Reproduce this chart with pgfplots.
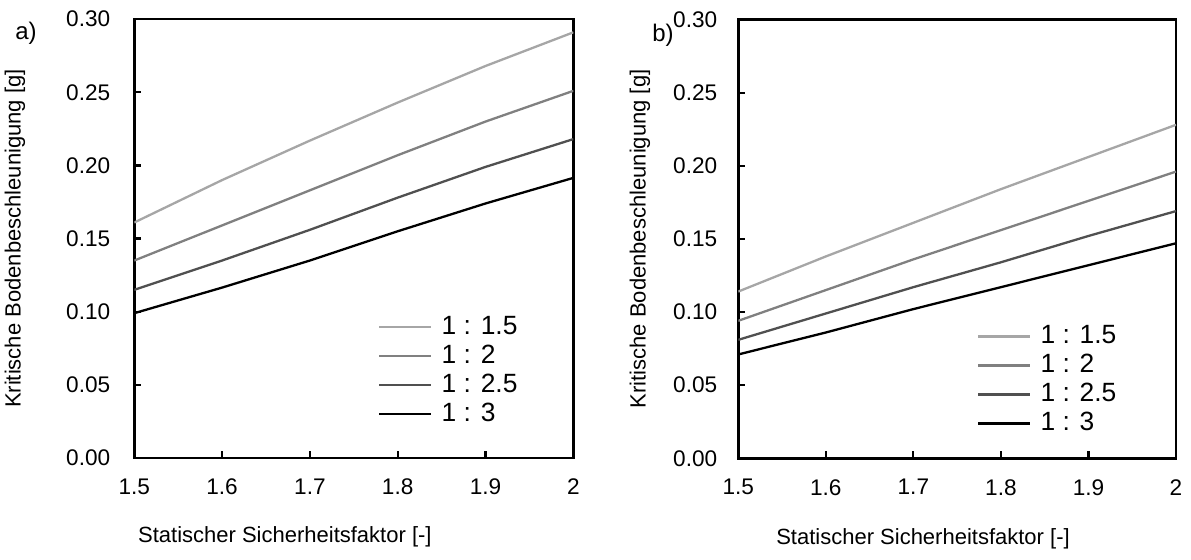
\documentclass[border=0pt]{standalone}
\usepackage{fontspec}
\setmainfont{Liberation Sans}
\usepackage{pgfplots}
\pgfplotsset{compat=1.18}

\definecolor{cA}{RGB}{166,166,166}
\definecolor{cB}{RGB}{128,128,128}
\definecolor{cC}{RGB}{80,80,80}
\definecolor{cD}{RGB}{0,0,0}

\pgfplotsset{
  slopeplot/.style={
    scale only axis, width=219.5pt, height=219.4pt,
    xmin=1.5, xmax=2, ymin=0, ymax=0.30,
    xtick={1.5,1.6,1.7,1.8,1.9,2},
    xticklabels={1.5,1.6,1.7,1.8,1.9,2},
    ytick={0,0.05,0.10,0.15,0.20,0.25,0.30},
    yticklabels={0.00,0.05,0.10,0.15,0.20,0.25,0.30},
    /pgf/number format/assume math mode=true,
    tick align=inside, xtick pos=bottom, ytick pos=left,
    major tick length=3.5pt,
    axis line style={line width=1.3pt},
    every tick/.style={black, line width=1.1pt},
    tick label style={font=\fontsize{11.3}{13}\selectfont},
    xticklabel style={yshift=-7pt},
    label style={font=\fontsize{11}{13}\selectfont},
    legend cell align=left,
    legend image code/.code={\draw[##1] (0pt,0pt) -- (26pt,0pt);},
    legend style={draw=none, fill=none, anchor=north west, inner sep=0pt,
      font=\fontsize{13.2}{15}\selectfont, column sep=4.5pt, row sep=2.5pt,
      nodes={inner sep=0pt, text height=9.5pt, text depth=2.5pt}},
    every axis plot/.append style={line width=1.15pt},
  }
}

\begin{document}
\begin{tikzpicture}
\useasboundingbox (0,0) rectangle (595.5pt,280pt);

% a)
\begin{axis}[slopeplot, at={(67.15pt,51pt)}, anchor=south west,
  yticklabel style={xshift=-8.5pt},
  xlabel={Statischer Sicherheitsfaktor [-]},
  ylabel={Kritische Bodenbeschleunigung [g]},
  xlabel style={at={(axis description cs:0.343,0)}, anchor=center, yshift=-39.5pt},
  ylabel style={at={(axis description cs:-0.272,0.5)}, anchor=center},
  legend style={at={(0.555,0.326)}}]
\addplot[cA] coordinates {(1.5,0.161) (1.6,0.190) (1.7,0.217) (1.8,0.243) (1.9,0.268) (2.0,0.291)};
\addlegendentry{1 : 1.5}
\addplot[cB] coordinates {(1.5,0.135) (1.6,0.159) (1.7,0.183) (1.8,0.207) (1.9,0.230) (2.0,0.251)};
\addlegendentry{1 : 2}
\addplot[cC] coordinates {(1.5,0.115) (1.6,0.135) (1.7,0.156) (1.8,0.178) (1.9,0.199) (2.0,0.218)};
\addlegendentry{1 : 2.5}
\addplot[cD] coordinates {(1.5,0.099) (1.6,0.1165) (1.7,0.135) (1.8,0.155) (1.9,0.174) (2.0,0.1915)};
\addlegendentry{1 : 3}
\end{axis}

% b)
\begin{axis}[slopeplot, at={(369.15pt,50.85pt)}, anchor=south west, width=218.85pt,
  yticklabel style={xshift=-7pt},
  xlabel={Statischer Sicherheitsfaktor [-]},
  ylabel={Kritische Bodenbeschleunigung [g]},
  xlabel style={at={(axis description cs:0.422,0)}, anchor=center, yshift=-40.5pt},
  ylabel style={at={(axis description cs:-0.2246,0.5)}, anchor=center},
  legend style={at={(0.545,0.306)}}]
\addplot[cA] coordinates {(1.5,0.114) (1.6,0.138) (1.7,0.161) (1.8,0.184) (1.9,0.206) (2.0,0.228)};
\addlegendentry{1 : 1.5}
\addplot[cB] coordinates {(1.5,0.094) (1.6,0.115) (1.7,0.136) (1.8,0.156) (1.9,0.176) (2.0,0.196)};
\addlegendentry{1 : 2}
\addplot[cC] coordinates {(1.5,0.081) (1.6,0.099) (1.7,0.117) (1.8,0.134) (1.9,0.152) (2.0,0.169)};
\addlegendentry{1 : 2.5}
\addplot[cD] coordinates {(1.5,0.071) (1.6,0.086) (1.7,0.102) (1.8,0.117) (1.9,0.132) (2.0,0.147)};
\addlegendentry{1 : 3}
\end{axis}

\node[font=\fontsize{12}{14}\selectfont] at (13pt,263.5pt) {a)};
\node[font=\fontsize{12}{14}\selectfont] at (331.5pt,262.5pt) {b)};
\end{tikzpicture}
\end{document}
